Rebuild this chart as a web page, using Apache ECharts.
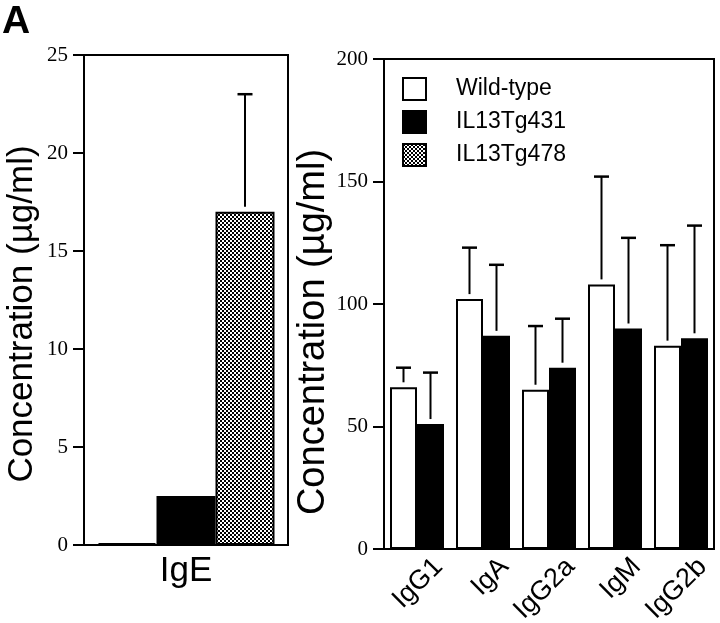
<!DOCTYPE html>
<html><head><meta charset="utf-8">
<script src="https://cdn.jsdelivr.net/npm/echarts@6/dist/echarts.min.js"></script>
<style>html,body{margin:0;padding:0;background:#fff}#c{width:720px;height:623px}</style>
</head><body><div id="c"></div>
<script>
// ---- data ----
const seriesNames = ['Wild-type', 'IL13Tg431', 'IL13Tg478'];
const leftCategories = ['IgE'];
const igeMeans = [0.1, 2.5, 17.0];      // Wild-type, IL13Tg431, IL13Tg478
const igeErrors = [0, 0, 6.0];
const leftTicks = [0, 5, 10, 15, 20, 25];
const rightCategories = ['IgG1', 'IgA', 'IgG2a', 'IgM', 'IgG2b'];
const wildTypeMeans = [66, 102, 65, 108, 83];
const wildTypeErrors = [8, 21, 26, 44, 41];
const tg431Means = [51, 87, 74, 90, 86];
const tg431Errors = [21, 29, 20, 37, 46];
const rightTicks = [0, 50, 100, 150, 200];

// ---- styles ----
const SANS = '"Liberation Sans", Arial, sans-serif';
const SERIF = '"Liberation Serif", "Times New Roman", serif';
const pc = document.createElement('canvas'); pc.width = 4; pc.height = 4;
const pctx = pc.getContext('2d');
pctx.fillStyle = '#fff'; pctx.fillRect(0, 0, 4, 4);
pctx.fillStyle = '#000'; pctx.fillRect(0, 0, 2, 2); pctx.fillRect(2, 2, 2, 2);
const pattern = { image: pc, repeat: 'repeat' };
const fills = ['#fff', '#000', pattern];

const LEFT_BAR_W = 59, RIGHT_BAR_W = 27;

function errRender(barW, nSeries) {
  return function (params, api) {
    const cat = api.value(0), top = api.value(1), mean = api.value(2), si = api.value(3);
    const base = api.coord([cat, mean]);
    const tp = api.coord([cat, top]);
    const x = base[0] + (si - (nSeries - 1) / 2) * barW;
    const half = 7.5;
    return { type: 'group', children: [
      { type: 'line', shape: { x1: x, y1: tp[1], x2: x, y2: base[1] - 5 }, style: { stroke: '#000', lineWidth: 2 } },
      { type: 'line', shape: { x1: x - half, y1: tp[1], x2: x + half, y2: tp[1] }, style: { stroke: '#000', lineWidth: 2.5 } }
    ] };
  };
}

const leftErrData = [];
igeMeans.forEach((m, i) => { if (igeErrors[i] > 0) leftErrData.push([0, m + igeErrors[i], m, i]); });
const rightErrData = [];
wildTypeMeans.forEach((m, i) => rightErrData.push([i, m + wildTypeErrors[i], m, 0]));
tg431Means.forEach((m, i) => rightErrData.push([i, m + tg431Errors[i], m, 1]));

function yAxisCommon(gi, ticks, nameGap, nameSize, namePad) {
  return {
    type: 'value', gridIndex: gi, min: ticks[0], max: ticks[ticks.length - 1], interval: ticks[1] - ticks[0],
    axisLine: { show: true, lineStyle: { color: '#000', width: 2 } },
    axisTick: { show: true, length: 11, lineStyle: { color: '#000', width: 2 } },
    axisLabel: { color: '#000', fontFamily: SERIF, fontSize: 21, margin: 16 },
    splitLine: { show: false },
    name: 'Concentration (µg/ml)', nameLocation: 'middle', nameGap: nameGap,
    nameTextStyle: { color: '#000', fontFamily: SANS, fontSize: nameSize, padding: [0, namePad, 0, 0] }
  };
}

const chart = echarts.init(document.getElementById('c'), null, { renderer: 'canvas' });
chart.setOption({
  animation: false,
  backgroundColor: '#fff',
  graphic: [{ type: 'text', left: 2, top: 3, style: { text: 'A', font: '900 39px "Liberation Sans", Arial, sans-serif', fill: '#000' } }],
  legend: {
    data: seriesNames, orient: 'vertical', left: 402, top: 77, padding: 0,
    itemWidth: 23, itemHeight: 22, itemGap: 9, icon: 'rect',
    textStyle: { color: '#000', fontFamily: SANS, fontSize: 23, padding: [0, 0, 0, 25] }
  },
  grid: [
    { left: 84, top: 55, width: 204, height: 490, show: true, borderColor: '#000', borderWidth: 2,
      backgroundColor: 'transparent', containLabel: false, outerBoundsMode: 'none' },
    { left: 384, top: 59, width: 330, height: 490, show: true, borderColor: '#000', borderWidth: 2,
      backgroundColor: 'transparent', containLabel: false, outerBoundsMode: 'none' }
  ],
  xAxis: [
    { type: 'category', gridIndex: 0, data: leftCategories,
      axisLine: { show: true, lineStyle: { color: '#000', width: 2 } }, axisTick: { show: false },
      axisLabel: { color: '#000', fontFamily: SANS, fontSize: 35, margin: 9 } },
    { type: 'category', gridIndex: 1, data: rightCategories,
      axisLine: { show: true, lineStyle: { color: '#000', width: 2 } }, axisTick: { show: false },
      axisLabel: { color: '#000', fontFamily: SANS, fontSize: 27, rotate: 45, interval: 0,
        align: 'right', verticalAlign: 'top', padding: [17, 0, 0, 0], margin: -8 } }
  ],
  yAxis: [
    yAxisCommon(0, leftTicks, 44, 35, 28),
    yAxisCommon(1, rightTicks, 50, 38, 56)
  ],
  series: [
    ...seriesNames.map((n, i) => ({
      type: 'bar', name: n, xAxisIndex: 0, yAxisIndex: 0, data: [igeMeans[i]],
      barWidth: LEFT_BAR_W, barGap: '0%',
      itemStyle: { color: fills[i], borderColor: '#000', borderWidth: 2 }
    })),
    { type: 'custom', name: 'errL', xAxisIndex: 0, yAxisIndex: 0, data: leftErrData,
      renderItem: errRender(LEFT_BAR_W, 3), encode: { x: 0, y: 1 }, clip: false, z: 3 },
    { type: 'bar', name: seriesNames[0], xAxisIndex: 1, yAxisIndex: 1, data: wildTypeMeans,
      barWidth: RIGHT_BAR_W, barGap: '0%', itemStyle: { color: fills[0], borderColor: '#000', borderWidth: 2 } },
    { type: 'bar', name: seriesNames[1], xAxisIndex: 1, yAxisIndex: 1, data: tg431Means,
      barWidth: RIGHT_BAR_W, barGap: '0%', itemStyle: { color: fills[1], borderColor: '#000', borderWidth: 2 } },
    { type: 'custom', name: 'errR', xAxisIndex: 1, yAxisIndex: 1, data: rightErrData,
      renderItem: errRender(RIGHT_BAR_W, 2), encode: { x: 0, y: 1 }, clip: false, z: 3 }
  ]
});
</script></body></html>
